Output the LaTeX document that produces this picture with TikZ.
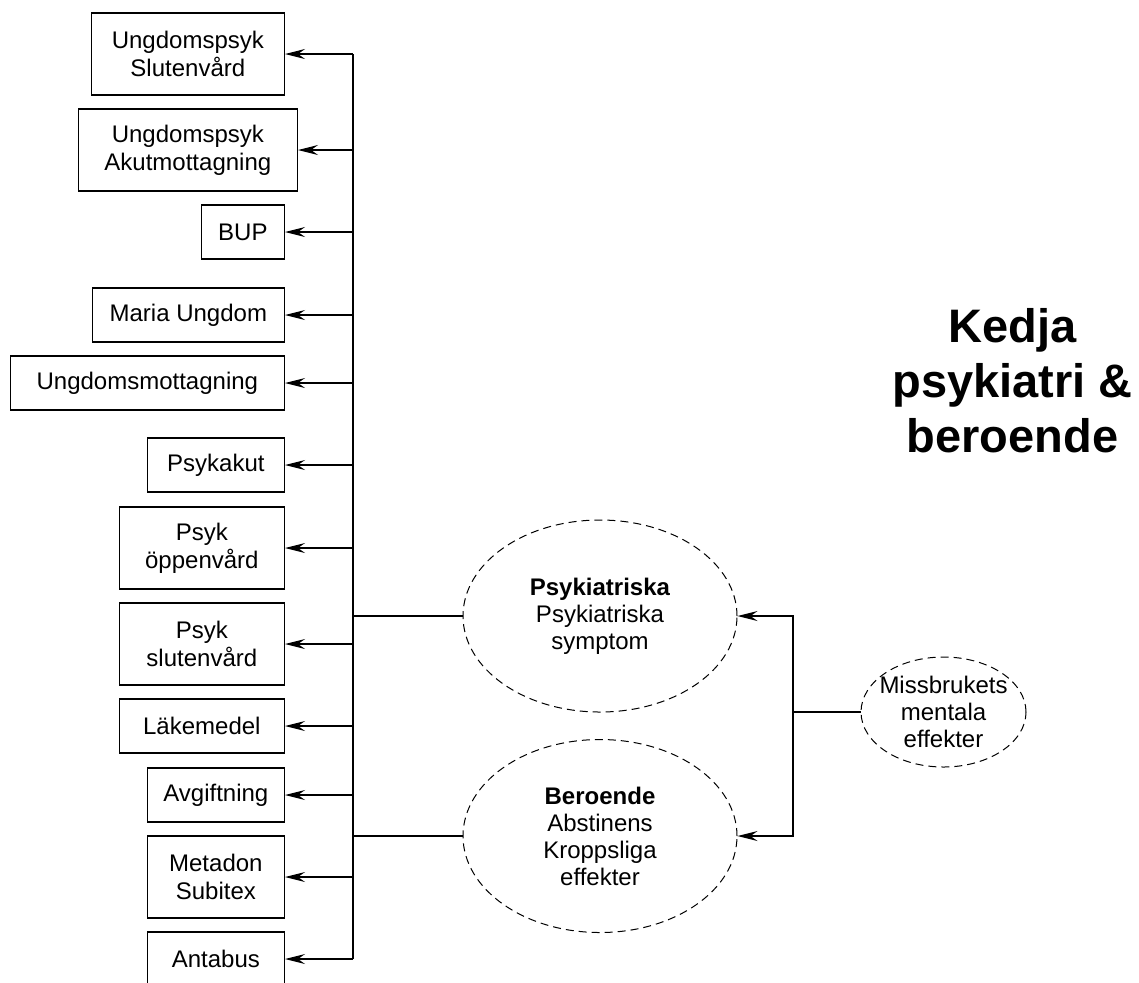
\documentclass[tikz,border=0pt]{standalone}
\usepackage{fontspec}
\setmainfont{Liberation Sans}
\usetikzlibrary{shapes,arrows.meta,positioning}

\tikzset{
    box/.style={draw, line width=0.65pt, align=center, inner sep=0pt, minimum height=27pt, font=\fontsize{12}{14}\selectfont},
    dbox/.style={box, minimum height=41pt},
    oval/.style={ellipse, draw, dash pattern=on 4pt off 2.5pt, line width=0.5pt, inner sep=0pt, align=center, font=\fontsize{12}{13.5}\selectfont},
    pil/.style={-{Stealth[length=10pt,width=5pt,inset=3.5pt]}, line width=0.65pt},
    lina/.style={line width=0.65pt}
}

\begin{document}
\begin{tikzpicture}[x=0.5pt, y=-0.5pt]
    \useasboundingbox (0,0) rectangle (1139,982);

    % Vardgivare
    \node[dbox, minimum width=96.5pt, anchor=east] (ysluten) at (285,54) {Ungdomspsyk\\Slutenvård};
    \node[dbox, minimum width=109.5pt, anchor=east] (yakut) at (298,150) {Ungdomspsyk\\Akutmottagning};
    \node[box, minimum width=41.5pt, anchor=east] (bup) at (285,232) {BUP};
    \node[box, minimum width=96pt, anchor=east] (maria) at (285,315) {Maria Ungdom};
    \node[box, minimum width=137pt, anchor=east] (umott) at (285,383) {Ungdomsmottagning};
    \node[box, minimum width=68.5pt, anchor=east] (psykakut) at (285,465) {Psykakut};
    \node[dbox, minimum width=82.5pt, anchor=east] (popp) at (285,548) {Psyk\\öppenvård};
    \node[dbox, minimum width=82.5pt, anchor=east] (pslut) at (285,644) {Psyk\\slutenvård};
    \node[box, minimum width=82.5pt, anchor=east] (lakemedel) at (285,726) {Läkemedel};
    \node[box, minimum width=68.5pt, anchor=east] (avgift) at (285,795) {Avgiftning};
    \node[dbox, minimum width=68.5pt, anchor=east] (metadon) at (285,877) {Metadon\\Subitex};
    \node[box, minimum width=68.5pt, anchor=east] (antabus) at (285,959) {Antabus};

    % Tillstand
    \node[oval, minimum width=137pt, minimum height=96pt] (psyk) at (600,616) {\textbf{Psykiatriska}\\Psykiatriska\\symptom};
    \node[oval, minimum width=137pt, minimum height=96.5pt] (beroende) at (600,836) {\textbf{Beroende}\\Abstinens\\Kroppsliga\\effekter};
    \node[oval, minimum width=82.5pt, minimum height=55pt,
          label={[align=center, font=\fontsize{12}{13.5}\selectfont]center:{Missbrukets\\mentala\\effekter}}] (missbruk) at (943.5,712) {};

    % Rubrik
    \node[font=\fontsize{23.5}{27.5}\selectfont\bfseries, align=center] (titel) at (1012.5,381) {Kedja\\psykiatri \&\\beroende};

    % Samlingslinjer
    \coordinate (bus) at (353,53);
    \coordinate (hbus) at (793,712);
    \draw[lina] (ysluten.east -| bus) -- (antabus.east -| bus);

    % Pilar till vardgivare
    \draw[pil] (ysluten.east -| bus) -- (ysluten.east);
    \draw[pil] (yakut.east -| bus) -- (yakut.east);
    \draw[pil] (bup.east -| bus) -- (bup.east);
    \draw[pil] (maria.east -| bus) -- (maria.east);
    \draw[pil] (umott.east -| bus) -- (umott.east);
    \draw[pil] (psykakut.east -| bus) -- (psykakut.east);
    \draw[pil] (popp.east -| bus) -- (popp.east);
    \draw[pil] (pslut.east -| bus) -- (pslut.east);
    \draw[pil] (lakemedel.east -| bus) -- (lakemedel.east);
    \draw[pil] (avgift.east -| bus) -- (avgift.east);
    \draw[pil] (metadon.east -| bus) -- (metadon.east);
    \draw[pil] (antabus.east -| bus) -- (antabus.east);

    % Tillstand till samlingslinje
    \draw[lina] (psyk.west) -- (psyk.west -| bus);
    \draw[lina] (beroende.west) -- (beroende.west -| bus);

    % Missbrukets effekter
    \draw[lina] (missbruk.west) -- (hbus);
    \draw[pil] (hbus) |- (psyk.east);
    \draw[pil] (hbus) |- (beroende.east);
\end{tikzpicture}
\end{document}
